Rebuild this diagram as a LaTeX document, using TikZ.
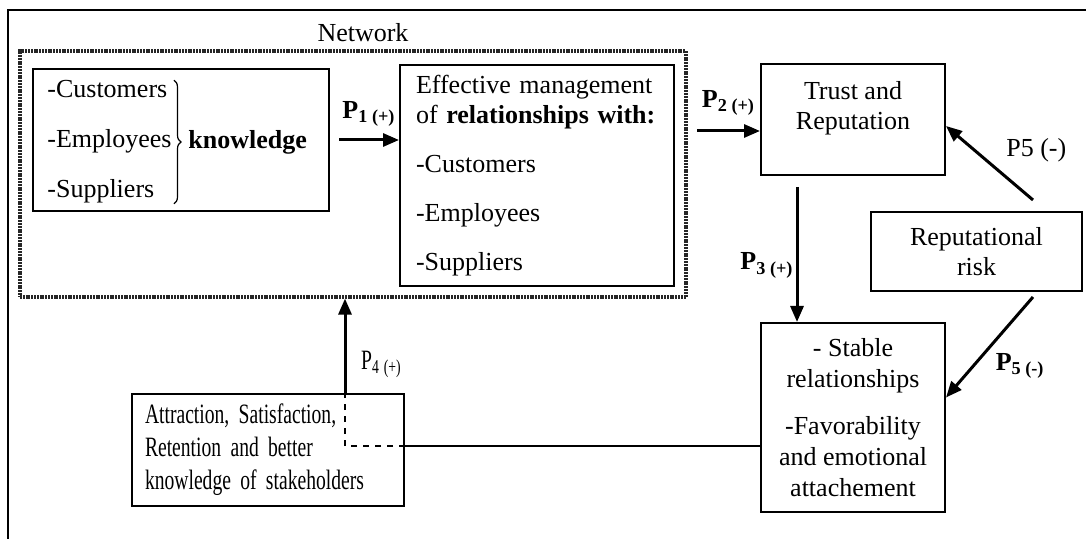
\documentclass[tikz,border=0pt]{standalone}
\usepackage{fontspec}
\setmainfont{Liberation Serif}
\newfontfamily\narrowfont[FakeStretch=0.70]{Liberation Serif}
\newcommand{\narrowtext}{\narrowfont\fontsize{14}{16.5}\selectfont\spaceskip=2.5pt plus 1pt minus 0.5pt\relax}
\usetikzlibrary{arrows.meta,positioning,decorations.pathreplacing}

\begin{document}
\begin{tikzpicture}[x=0.5pt, y=-0.5pt,
	box/.style={draw, line width=1pt, inner sep=0pt, font=\fontsize{13}{15}\selectfont},
	arr/.style={-{Triangle[length=8pt,width=6.5pt]}, line width=1.5pt},
	plab/.style={font=\fontsize{13}{15}\selectfont\bfseries, inner sep=1pt}]
	\useasboundingbox (0,0) rectangle (1086,539);
	% outer frame
	\draw[line width=1.2pt] (8,539) |- (1086,10);

	% network area
	\node[draw=black!85, line width=1.6pt, dash pattern=on 1pt off 0.4pt,
		minimum width=333pt, minimum height=123pt] (net) at (353,174) {};
	\node[font=\fontsize{13}{15}\selectfont] (netlabel) at (363,33) {Network};

	% stakeholder knowledge
	\node[box, minimum width=148pt, minimum height=71pt] (know) at (181,140) {};
	\node[anchor=west, align=left, inner sep=0pt, font=\fontsize{13}{25}\selectfont] (knowlist) at ([xshift=7.5pt,yshift=-1pt]know.west)
		{-Customers\\-Employees\\-Suppliers};
	\draw[decorate, decoration={brace, amplitude=3.5pt}, line width=0.6pt]
		([xshift=1pt]knowlist.north east) -- ([xshift=1pt]knowlist.south east);
	\node[right=8pt of knowlist, inner sep=0pt, font=\fontsize{13}{15}\selectfont\bfseries] (knowword) {knowledge};

	\node[box, minimum width=137pt, minimum height=110.5pt, text width=121pt, align=left] (mgmt) at (537,175.5)
		{Effective management\\of \textbf{relationships with:}\\[9.5pt]-Customers\\[9.5pt]-Employees\\[9.5pt]-Suppliers};

	\node[box, minimum width=92pt, minimum height=55.5pt, align=center] (trust) at (853,119.5)
		{Trust and\\Reputation\\[-1pt]\mbox{}};
	\node[box, minimum width=105.5pt, minimum height=39.5pt, align=center] (risk) at (976.5,251.5)
		{Reputational\\risk};
	\node[box, minimum width=92pt, minimum height=94.5pt, align=center, font=\fontsize{13}{15.5}\selectfont] (stable) at (853,417.5)
		{- Stable\\relationships\\[8pt]-Favorability\\and emotional\\attachement};
	\node[box, font=\narrowtext, minimum width=136pt, minimum height=56pt, text width=123pt, align=left] (attract) at (268,450)
		{Attraction, Satisfaction,\\Retention and better\\knowledge of stakeholders};

	% free ends
	\coordinate (p2start) at (697,131);
	\coordinate (p3start) at (797,187);
	\coordinate (riskup) at (1033,200);
	\coordinate (riskdown) at (1033,297);
	\coordinate (bend) at (345,446);

	\path[arr]
	([xshift=4.5pt]know.east) edge node[plab, above=5pt]{P\textsubscript{1 (+)}} (know.east -| mgmt.west)
	(p2start) edge node[plab, above=6pt]{P\textsubscript{2 (+)}} (p2start -| trust.west)
	(p3start) edge node[plab, left=0pt, pos=0.58]{P\textsubscript{3 (+)}} (p3start |- stable.north)
	(riskup) edge node[above right, pos=0.4, font=\fontsize{13}{15}\selectfont]{P5 (-)} ([yshift=-3.25pt]trust.east)
	(riskdown) edge node[plab, below right=2pt, pos=0.5]{P\textsubscript{5 (-)}} ([yshift=10pt]stable.east);

	% feedback loop
	\draw[line width=0.8pt] (stable.west |- bend) -- (bend -| attract.east);
	\draw[line width=1pt, dashed] (bend -| attract.east) -- (bend) -- (bend |- attract.north);
	\draw[arr] (bend |- attract.north) -- (bend |- net.south)
		node[font=\narrowtext, right=4pt, pos=0.3]{P\textsubscript{4 (+)}};
\end{tikzpicture}
\end{document}
